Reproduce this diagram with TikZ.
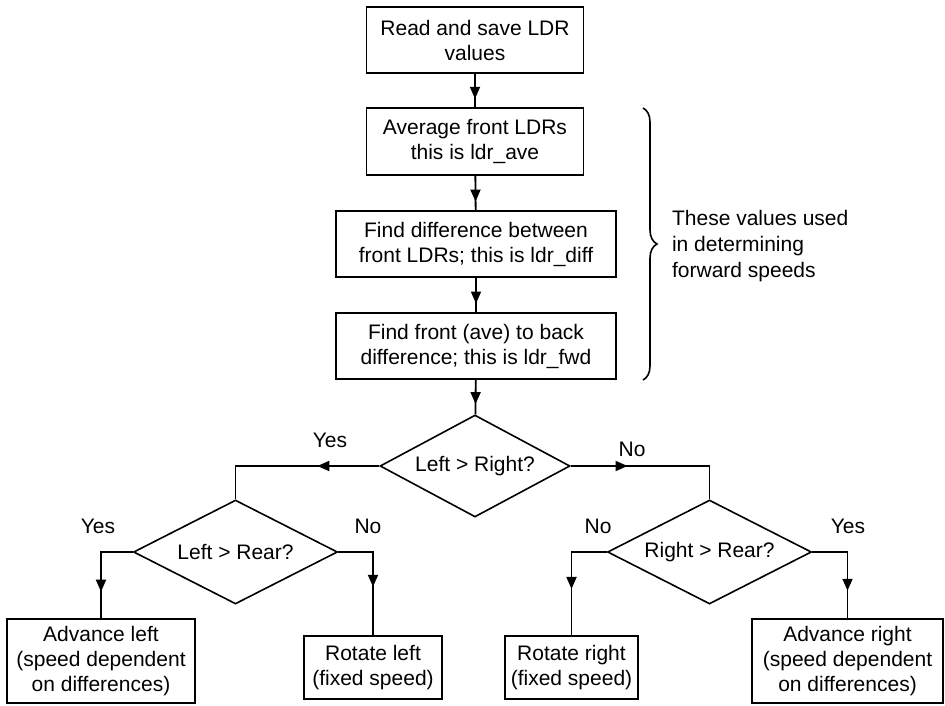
\documentclass[tikz,border=0pt]{standalone}
\usepackage{fontspec}
\setmainfont{Liberation Sans}
\usetikzlibrary{arrows.meta, shapes.geometric, decorations.markings, decorations.pathreplacing}

\begin{document}
\begin{tikzpicture}[x=0.5pt, y=-0.5pt,
    every node/.style={font=\fontsize{10.5}{12.5}\selectfont},
    block/.style={draw, line width=0.9pt, align=center, inner sep=0pt},
    decision/.style={draw, diamond, aspect=2, line width=0.8pt, inner sep=0pt, minimum width=102pt, minimum height=52pt},
    flow/.style={line width=0.9pt},
    midarrow/.style={postaction={decorate, decoration={markings, mark=at position #1 with {\arrow{Triangle[length=6pt, width=5pt]}}}}}]
    \useasboundingbox (0,0) rectangle (945,705);

    % Main chain
    \node[block, minimum width=108.5pt, minimum height=33pt] (read) at (475,40) {Read and save LDR\\values};
    \node[block, minimum width=108.5pt, minimum height=33.5pt] (ave) at (475,141.5) {Average front LDRs\\this is ldr\_ave};
    \node[block, minimum width=140pt, minimum height=33pt] (diff) at (476,244) {Find difference between\\front LDRs; this is ldr\_diff};
    \node[block, minimum width=140pt, minimum height=33pt] (fwd) at (476,346) {Find front (ave) to back\\difference; this is ldr\_fwd};

    % Decisions
    \node[decision, minimum width=95pt, minimum height=51pt] (lr) at (475,466) {Left > Right?};
    \node[decision] (lrear) at (235.5,552) {Left > Rear?};
    \node[decision] (rrear) at (709.5,552) {Right > Rear?};

    % Outcomes
    \node[block, minimum width=94pt, minimum height=42pt] (advl) at (101,661) {Advance left\\(speed dependent\\on differences)};
    \node[block, minimum width=69pt, minimum height=31.5pt] (rotl) at (373,667.5) {Rotate left\\(fixed speed)};
    \node[block, minimum width=66.5pt, minimum height=31.5pt] (rotr) at (571.5,667.5) {Rotate right\\(fixed speed)};
    \node[block, minimum width=95.5pt, minimum height=42pt] (advr) at (847.5,661) {Advance right\\(speed dependent\\on differences)};

    % Connectors
    \draw[flow, midarrow=0.75] (read) -- (ave);
    \draw[flow, midarrow=0.75] (ave) -- (diff);
    \draw[flow, midarrow=0.75] (diff) -- (fwd);
    \draw[flow, midarrow=0.7] (fwd) -- (lr);
    \draw[flow, midarrow=0.35] (lr.west) -| (lrear.north);
    \draw[flow, midarrow=0.33] (lr.east) -| (rrear.north);
    \draw[flow, midarrow=0.73] (lrear.west) -| (advl.north);
    \draw[flow, midarrow=0.59] (lrear.east) -| (rotl.north);
    \draw[flow, midarrow=0.61] (rrear.west) -| (rotr.north);
    \draw[flow, midarrow=0.73] (rrear.east) -| (advr.north);

    % Branch labels
    \node (yesa) at (330,440) {Yes};
    \node (noa) at (632,449) {No};
    \node (yesb) at (98,526) {Yes};
    \node (nob) at (368,526) {No};
    \node (noc) at (598,526) {No};
    \node (yesc) at (848,526) {Yes};

    % Brace and note
    \draw[line width=0.8pt, decorate, decoration={brace, amplitude=7pt}] (643,108) -- (643,380);
    \node[anchor=west, align=left, font=\fontsize{10.5}{13}\selectfont] (note) at (665,246) {These values used\\in determining\\forward speeds};
\end{tikzpicture}
\end{document}
